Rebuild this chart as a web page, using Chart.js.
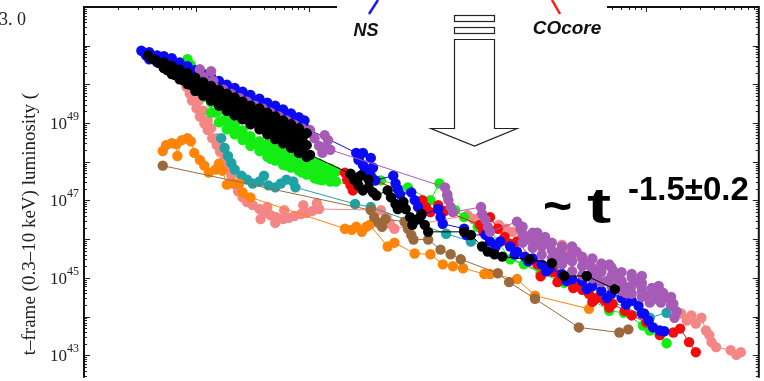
<!DOCTYPE html>
<html>
<head>
<meta charset="utf-8">
<script src="https://cdn.jsdelivr.net/npm/chart.js@4.4.0/dist/chart.umd.min.js"></script>
<style>
  html, body { margin: 0; padding: 0; background: #fff; }
  #wrap { width: 764px; height: 381px; }
</style>
</head>
<body>
<div id="wrap"><canvas id="chart" width="764" height="381"></canvas></div>
<script>
// values are log10(rest-frame time, s) and log10(luminosity, erg/s)
const blackT = [1.57,1.64,1.71,1.71,1.78,1.78,1.85,1.85,1.85,1.92,1.92,1.92,1.99,1.99,1.99,2.06,2.06,2.06,2.13,2.13,2.13,2.20,2.20,2.20,2.27,2.27,2.27,2.34,2.34,2.34,2.41,2.41,2.41,2.48,2.48,2.48,2.56,2.56,2.56,2.63,2.63,2.63,2.70,2.70,2.70,2.77,2.77,2.77,2.84,2.84,2.84,2.91,2.91,2.91,2.98,2.98,2.98,3.01,
  3.37,3.40,3.44,3.46,3.48,3.53,3.53,3.57,3.60,3.70,3.73,3.77,3.79,3.84,3.86,3.90,3.92,3.97,4.00,4.03,4.06,4.38,4.44,4.54,4.59,4.65,4.72,4.96,5.16,5.27,5.47,5.72];
const blackL = [50.75,50.62,50.57,50.42,50.47,50.27,50.38,50.27,50.13,50.29,50.14,50.01,50.17,50.01,49.83,50.06,49.89,49.71,49.96,49.78,49.58,49.86,49.66,49.45,49.76,49.55,49.32,49.66,49.43,49.20,49.55,49.32,49.10,49.45,49.22,48.97,49.38,49.12,48.84,49.27,48.99,48.71,49.17,48.89,48.59,49.07,48.79,48.48,48.97,48.66,48.36,48.87,48.56,48.23,48.74,48.43,48.13,48.18,
  47.69,47.54,47.39,47.64,47.26,47.34,47.54,47.21,47.13,47.26,47.08,46.91,46.78,46.96,46.78,46.57,46.37,46.52,46.65,46.37,46.19,46.19,46.11,45.81,45.68,45.61,45.55,45.48,45.38,45.05,45.05,44.71];
const blackBandT = [1.60,1.67,1.74,1.74,1.81,1.81,1.88,1.88,1.95,1.95,2.02,2.02,2.10,2.10,2.17,2.17,2.24,2.24,2.31,2.31,2.38,2.38,2.45,2.45,2.52,2.52,2.59,2.59,2.66,2.66,2.73,2.73,2.80,2.80,2.87,2.87,2.94,2.94];
const blackBandL = [50.67,50.55,50.47,50.37,50.37,50.24,50.27,50.11,50.14,49.99,50.04,49.86,49.94,49.73,49.81,49.61,49.71,49.48,49.61,49.38,49.48,49.25,49.40,49.15,49.30,49.02,49.20,48.92,49.10,48.79,48.99,48.69,48.87,48.56,48.76,48.46,48.64,48.33];

const purpleT = [2.03,2.06,2.09,2.13,2.15,2.18,2.24,2.31,2.38,2.45,2.52,2.59,2.66,2.73,2.80,2.87,2.94,3.01,3.05,3.09,3.12,3.14,3.16,3.17,3.19,
  4.21,4.23,4.24,4.26,4.28,4.53,4.54,4.57,4.59,4.61,4.85,4.88,4.91,4.96,5.00,5.03,5.10,5.14,5.17,5.20,5.22,5.25,5.29,5.34,5.38,5.43,5.47,5.52,5.56,5.60,5.65,5.67,5.71,5.75,5.80,5.82,5.87,5.91,5.96,5.96,6.00,6.03,6.09,6.11,6.15,6.20,6.24,6.27,6.25];
const purpleL = [50.39,50.19,49.99,50.34,50.09,49.89,49.86,49.75,49.65,49.55,49.45,49.37,49.27,49.17,49.07,48.96,48.86,48.82,48.61,48.41,48.23,48.69,48.36,48.56,48.31,
  47.34,47.16,47.01,46.83,46.70,46.83,46.65,46.50,46.32,46.19,46.45,46.27,46.11,45.99,45.89,46.17,46.06,45.86,45.68,45.50,45.38,45.81,45.50,45.81,45.68,45.50,45.35,45.17,45.05,45.25,44.92,45.35,45.17,44.97,44.79,44.61,45.10,44.92,44.74,45.05,44.54,44.36,44.54,44.79,44.61,44.48,44.33,44.13,43.97];
const purpleBandT = [4.90,4.90,4.90,4.99,4.99,4.99,5.07,5.07,5.07,5.16,5.16,5.16,5.25,5.25,5.25,5.34,5.34,5.34,5.43,5.43,5.43,5.52,5.52,5.52,5.60,5.60,5.60,5.69,5.69,5.69,5.78,5.78,5.78,5.87,5.87,5.87,5.96,5.96,5.96,6.05,6.05,6.05,6.13,6.13,6.13,6.22,6.22];
const purpleBandL = [46.32,46.11,45.91,46.17,45.96,45.78,46.01,45.81,45.60,45.91,45.71,45.50,45.78,45.58,45.35,45.66,45.43,45.17,45.55,45.30,45.07,45.50,45.25,44.99,45.37,45.15,44.89,45.27,45.04,44.79,45.15,44.92,44.66,45.02,44.79,44.59,44.87,44.66,44.51,44.74,44.53,44.43,44.64,44.46,44.36,44.51,44.28];

const blueT = [1.51,1.58,1.58,1.65,1.65,1.71,1.71,1.78,1.78,1.85,1.85,1.92,1.92,1.99,1.99,2.06,2.06,2.13,2.13,2.20,2.20,2.27,2.27,2.34,2.34,2.41,2.41,2.48,2.48,2.56,2.56,2.63,2.63,2.70,2.70,2.77,2.77,2.84,2.84,2.91,2.91,2.96,2.96,
  3.42,3.44,3.48,3.48,3.49,3.53,3.55,3.55,3.57,3.59,3.75,3.77,3.79,3.81,3.91,3.94,3.97,4.00,4.15,4.17,4.19,4.38,4.40,4.57,4.61,4.66,4.70,4.79,4.85,4.92,4.99,5.07,5.14,5.25,5.34,5.43,5.52,5.60,5.69,5.78,5.87,5.93,5.98,6.02,6.06,6.12,6.16];
const blueL = [50.87,50.83,50.65,50.75,50.57,50.73,50.55,50.68,50.50,50.57,50.39,50.47,50.29,50.37,50.19,50.27,50.09,50.19,50.01,50.09,49.91,49.99,49.81,49.91,49.73,49.81,49.63,49.73,49.55,49.63,49.45,49.53,49.35,49.45,49.27,49.35,49.17,49.25,49.07,49.15,48.97,49.07,48.89,
  48.23,48.05,47.92,48.23,47.72,47.80,48.10,47.64,47.85,47.52,47.64,47.44,47.29,47.16,47.21,47.01,46.83,46.62,46.78,46.57,46.40,46.27,46.11,46.11,45.94,45.81,45.94,45.81,45.68,45.55,45.50,45.35,45.25,45.10,44.97,44.92,44.79,44.66,44.59,44.48,44.41,44.28,44.08,43.90,43.72,43.64,43.62];
const blueBandT = [1.55,1.62,1.69,1.76,1.83,1.90,1.97,2.04,2.11,2.18,2.25,2.33,2.40,2.47,2.54,2.61,2.68,2.75,2.82,2.89,
  4.83,4.95,5.11,5.29,5.47,5.65,5.82,5.96];
const blueBandL = [50.75,50.70,50.65,50.60,50.52,50.42,50.32,50.22,50.11,50.01,49.94,49.83,49.76,49.66,49.55,49.48,49.38,49.27,49.17,49.10,
  45.60,45.43,45.17,44.92,44.71,44.48,44.31,44.08];

const redT = [3.32,3.34,3.37,3.39,3.42,3.59,4.01,4.04,4.08,4.15,4.21,4.52,4.55,4.61,4.68,4.74,4.78,4.85,5.03,5.06,5.10,5.17,5.21,5.24,5.31,5.35,5.38,5.43,5.49,5.52,5.56,5.63,5.67,5.70,5.81,5.87,6.00,6.12,6.24,6.30,6.38,6.44];
const redL = [47.72,47.54,47.39,47.26,47.59,47.52,47.01,46.83,46.70,46.88,46.73,46.37,46.19,46.57,46.27,46.06,45.89,45.94,45.35,45.04,45.25,45.15,44.89,45.05,44.94,44.74,44.84,44.69,44.59,44.38,44.48,44.41,44.23,44.33,44.15,44.03,43.85,43.52,43.59,43.69,43.34,43.08];

const greenT = [1.92,1.95,1.97,2.00,2.03,2.05,2.08,2.13,2.13,2.20,2.20,2.27,2.27,2.34,2.34,2.41,2.41,2.48,2.48,2.56,2.56,2.63,2.63,2.63,2.70,2.70,2.77,2.77,2.77,2.84,2.84,2.91,2.91,2.91,2.98,2.98,3.05,3.05,3.05,3.12,3.12,3.19,3.19,3.19,3.24,3.24,
  3.44,3.64,3.88,4.08,4.16,4.23,4.30,4.38,4.50,4.61,4.79,4.91,5.06,5.27,5.44,5.53,5.67,5.80,5.97,6.03,6.18];
const greenL = [50.65,50.50,50.34,50.14,49.96,49.81,49.68,49.53,49.27,49.32,49.02,49.12,48.84,48.97,48.71,48.81,48.56,48.66,48.41,48.53,48.28,48.46,48.31,48.13,48.36,48.03,48.25,48.10,47.92,48.20,47.85,48.13,47.95,47.77,48.05,47.67,47.97,47.77,47.57,47.90,47.52,47.82,47.64,47.49,47.75,47.49,
  47.34,47.52,47.34,47.01,47.44,47.13,46.75,46.57,46.32,46.24,45.48,45.35,45.12,44.87,44.79,44.41,44.15,44.10,43.77,43.64,43.31];
const greenBandT = [2.17,2.24,2.31,2.38,2.45,2.52,2.59,2.66,2.66,2.66,2.73,2.80,2.80,2.80,2.87,2.94,2.94,2.94,3.01,3.09,3.09,3.09,3.16];
const greenBandL = [49.27,49.07,48.92,48.76,48.61,48.46,48.36,48.41,48.23,48.08,48.13,48.23,48.05,47.90,47.97,48.10,47.90,47.72,47.80,47.95,47.72,47.54,47.67];

const brownT = [1.70,3.55,3.58,3.62,3.65,3.68,3.85,3.88,3.91,3.93,4.06,4.17,4.26,4.35,4.68,4.78,5.01,5.40,5.76,5.84];
const brownL = [47.90,46.75,46.57,46.42,46.32,46.52,46.45,46.27,46.11,45.99,45.99,45.73,45.61,45.48,45.12,44.89,44.46,43.72,43.59,43.67];

const orangeT = [1.70,1.73,1.78,1.82,1.83,1.87,1.92,1.95,1.98,2.03,2.07,2.11,2.17,2.20,2.23,2.27,2.33,2.38,2.41,2.48,
  3.32,3.38,3.42,3.47,3.51,3.54,3.70,3.76,3.94,4.08,4.19,4.28,4.37,4.56,4.61,4.85,5.01,5.49];
const orangeL = [48.28,48.43,48.48,48.46,48.15,48.56,48.61,48.53,48.23,48.05,47.90,47.72,47.80,47.95,47.77,47.41,47.44,47.44,47.21,47.08,
  46.27,46.24,46.32,46.19,46.32,46.37,45.81,45.91,45.63,45.61,45.35,45.30,45.25,45.10,45.10,44.97,44.54,44.20];

const tealT = [2.22,2.25,2.28,2.31,2.34,2.40,2.45,2.50,2.56,2.60,2.64,2.70,2.75,2.80,2.86,2.88,3.41,3.55,4.22,4.44,6.03,6.18];
const tealL = [48.61,48.36,48.15,47.97,47.80,47.64,47.54,47.44,47.49,47.64,47.39,47.34,47.44,47.54,47.49,47.34,46.91,46.83,46.14,45.94,43.97,44.10];

const pinkT = [1.91,1.94,1.96,1.96,2.00,2.02,2.03,2.06,2.07,2.10,2.10,2.13,2.14,2.18,2.18,2.21,2.21,2.25,2.25,2.28,2.28,2.31,2.33,2.37,2.41,2.45,2.50,2.56,2.57,2.61,2.63,2.66,2.70,2.71,2.77,2.78,2.82,2.87,2.93,2.95,2.98,3.03,3.07,3.09,
  3.64,3.69,3.72,3.76,4.41,4.46,4.52,4.69,4.75,4.81,5.25,5.31,5.37,6.09,6.22,6.31,6.36,6.40,6.44,6.49,6.53,6.56,6.58,6.62,6.75,6.80,6.84];
const pinkL = [49.94,49.76,49.58,49.83,49.38,49.58,49.17,49.32,48.99,48.82,49.07,48.87,48.61,48.43,48.61,48.26,48.36,48.05,48.10,47.85,47.90,47.64,47.44,47.24,47.08,46.96,46.88,46.78,46.52,46.68,46.83,46.62,46.42,46.57,46.52,46.75,46.55,46.60,46.65,46.88,46.68,46.73,46.93,46.78,
  46.75,46.57,46.40,46.27,46.62,46.52,46.57,46.37,46.27,46.19,45.86,45.76,45.63,44.54,44.41,44.08,43.90,44.03,43.82,43.97,43.64,43.52,43.34,43.21,43.13,43.01,43.08];

const yLabelDecades = [43, 45, 47, 49];
const xRange = [1, 7];
const yRange = [42.47, 52];

function points(ts, ls) {
  return ts.map((t, i) => ({ x: Math.pow(10, t), y: Math.pow(10, ls[i]) }));
}

function merged(aT, aL, bT, bL) {
  return points(aT, aL).concat(points(bT, bL)).sort((p, q) => p.x - q.x);
}

function series(data, color) {
  return {
    data: data,
    showLine: true,
    borderColor: color,
    borderWidth: 1,
    backgroundColor: color,
    pointRadius: 5.2,
    pointHoverRadius: 5.2,
    pointBorderWidth: 0
  };
}

const frame = {
  id: 'frame',
  afterDraw(chart) {
    const ctx = chart.ctx;
    const a = chart.chartArea;
    const xs = chart.scales.x, ys = chart.scales.y;
    ctx.save();

    // inward ticks
    ctx.strokeStyle = '#222';
    ctx.lineWidth = 1;
    ctx.beginPath();
    for (let d = xRange[0]; d < xRange[1]; d++) {
      for (let k = 1; k < 10; k++) {
        const px = Math.round(xs.getPixelForValue(k * Math.pow(10, d))) + 0.5;
        ctx.moveTo(px, a.top);
        ctx.lineTo(px, a.top + (k === 1 ? 5 : 3));
      }
    }
    for (let d = 42; d < 52; d++) {
      for (let k = 1; k < 10; k++) {
        const v = k * Math.pow(10, d);
        if (v < ys.min || v > ys.max) continue;
        const py = Math.round(ys.getPixelForValue(v)) + 0.5;
        const len = k === 1 ? 6 : 3;
        ctx.moveTo(a.left, py); ctx.lineTo(a.left + len, py);
        ctx.moveTo(a.right, py); ctx.lineTo(a.right - len, py);
      }
    }
    ctx.stroke();

    // frame
    ctx.lineWidth = 2;
    ctx.strokeStyle = '#111';
    ctx.beginPath();
    ctx.moveTo(a.left, a.bottom + 2);
    ctx.lineTo(a.left, a.top);
    ctx.lineTo(a.right, a.top);
    ctx.lineTo(a.right, a.bottom + 2);
    ctx.stroke();

    // y tick labels 10^n
    ctx.fillStyle = '#222';
    yLabelDecades.forEach(d => {
      const py = ys.getPixelForValue(Math.pow(10, d));
      ctx.font = '17px "Liberation Serif"';
      ctx.textAlign = 'right';
      ctx.textBaseline = 'alphabetic';
      ctx.fillText('10', 67, py + 6);
      ctx.font = '12px "Liberation Serif"';
      ctx.textAlign = 'left';
      ctx.fillText(String(d), 67, py - 3);
    });

    // y axis title (cropped in the original)
    ctx.save();
    ctx.translate(30, 93);
    ctx.rotate(-Math.PI / 2);
    ctx.font = '19px "Liberation Serif"';
    ctx.textAlign = 'right';
    ctx.textBaseline = 'middle';
    ctx.fillText('t\u2013frame (0.3\u201310 keV) luminosity (', 0, 0);
    ctx.restore();

    ctx.font = '18px "Liberation Serif"';
    ctx.textAlign = 'left';
    ctx.fillText('3. 0', -1, 25);

    // inset with the labels and arrow
    ctx.fillStyle = '#fff';
    ctx.fillRect(337, 0, 270, 14);

    ctx.lineWidth = 2.5;
    ctx.strokeStyle = '#1a1aff';
    ctx.beginPath(); ctx.moveTo(378, 0); ctx.lineTo(369, 14); ctx.stroke();
    ctx.strokeStyle = '#ff1a1a';
    ctx.beginPath(); ctx.moveTo(552, 0); ctx.lineTo(560, 14); ctx.stroke();

    ctx.fillStyle = '#111';
    ctx.font = 'italic bold 18px "Liberation Sans"';
    ctx.textAlign = 'center';
    ctx.textBaseline = 'middle';
    ctx.fillText('NS', 366, 31);
    ctx.font = 'italic bold 19px "Liberation Sans"';
    ctx.fillText('COcore', 567, 29);

    ctx.lineWidth = 1.2;
    ctx.strokeStyle = '#222';
    ctx.strokeRect(454.5, 15.5, 40, 6);
    ctx.strokeRect(454.5, 27.5, 40, 6);
    ctx.beginPath();
    ctx.moveTo(454.5, 39.5);
    ctx.lineTo(494.5, 39.5);
    ctx.lineTo(494.5, 128.5);
    ctx.lineTo(517, 128.5);
    ctx.lineTo(474.5, 146);
    ctx.lineTo(431, 128.5);
    ctx.lineTo(454.5, 128.5);
    ctx.closePath();
    ctx.stroke();

    // power-law annotation
    ctx.fillStyle = '#000';
    ctx.textAlign = 'left';
    ctx.textBaseline = 'alphabetic';
    ctx.font = 'bold 50px "Liberation Sans"';
    ctx.fillText('~', 543, 223);
    ctx.save();
    ctx.translate(587, 223);
    ctx.scale(1.45, 1);
    ctx.fillText('t', 0, 0);
    ctx.restore();
    ctx.font = 'bold 33px "Liberation Sans"';
    ctx.fillText('-1.5\u00b10.2', 628, 200);

    ctx.restore();
  }
};

new Chart(document.getElementById('chart'), {
  type: 'scatter',
  data: {
    datasets: [
      series(merged(blackT, blackL, blackBandT, blackBandL), '#000000'),
      series(merged(purpleT, purpleL, purpleBandT, purpleBandL), '#a65cb6'),
      series(merged(blueT, blueL, blueBandT, blueBandL), '#0a0af5'),
      series(points(redT, redL), '#f20c0c'),
      series(merged(greenT, greenL, greenBandT, greenBandL), '#14ec14'),
      series(points(brownT, brownL), '#9a6a3c'),
      series(points(orangeT, orangeL), '#ff8408'),
      series(points(tealT, tealL), '#1fa2a6'),
      series(points(pinkT, pinkL), '#f58686')
    ]
  },
  options: {
    responsive: false,
    animation: false,
    devicePixelRatio: 1,
    events: [],
    layout: { padding: { left: 84, top: 7, right: 1, bottom: 0 } },
    plugins: { legend: { display: false }, tooltip: { enabled: false } },
    scales: {
      x: { type: 'logarithmic', display: false, min: Math.pow(10, xRange[0]), max: Math.pow(10, xRange[1]) },
      y: { type: 'logarithmic', display: false, min: Math.pow(10, yRange[0]), max: Math.pow(10, yRange[1]) }
    }
  },
  plugins: [frame]
});
</script>
</body>
</html>
